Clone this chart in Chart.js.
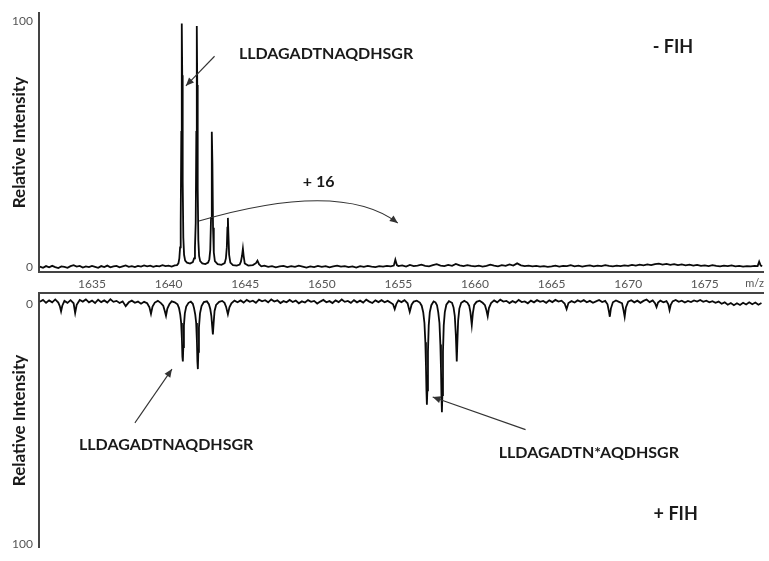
<!DOCTYPE html>
<html><head><meta charset="utf-8">
<script src="https://cdn.jsdelivr.net/npm/chart.js@4"></script>
<style>
html,body{margin:0;padding:0;background:#fff;}
#wrap{position:relative;width:769px;height:561px;overflow:hidden;background:#fff;}
canvas{position:absolute;left:0;}
</style></head><body>
<div id="wrap">
<canvas id="c1" width="769" height="300" style="top:0;width:769px;height:300px"></canvas>
<canvas id="c2" width="769" height="281" style="top:280px;width:769px;height:281px"></canvas>
</div>
<script>
// ---------- DATA ----------
const xTickLabels = [1635, 1640, 1645, 1650, 1655, 1660, 1665, 1670, 1675];
const yTickLabels = [0, 100];
const mzRange = [1631.54, 1678.8];

// -FIH spectrum: [m/z, relative intensity]
const topSpectrum = [
[1631.6,0.2],[1631.8,-0.3],[1632.0,0.4],[1632.2,-0.1],[1632.4,0.5],[1632.6,0.0],[1632.8,-0.4],[1633.0,0.3],
[1633.2,0.1],[1633.4,-0.3],[1633.6,0.4],[1633.8,0.8],[1634.0,0.2],[1634.2,0.5],[1634.4,-0.2],[1634.6,0.3],
[1634.8,0.0],[1635.0,0.5],[1635.2,0.1],[1635.4,-0.3],[1635.6,0.4],[1635.8,0.0],[1636.0,0.6],[1636.2,-0.1],
[1636.4,0.3],[1636.6,0.5],[1636.8,-0.1],[1637.0,0.3],[1637.2,0.7],[1637.4,0.1],[1637.6,0.4],[1637.8,0.0],
[1638.0,0.5],[1638.2,0.2],[1638.4,0.7],[1638.6,0.3],[1638.8,0.6],[1639.0,0.1],[1639.2,0.5],[1639.4,0.3],
[1639.6,0.8],[1639.8,0.4],[1640.0,0.6],[1640.2,0.2],[1640.4,0.7],[1640.55,0.8],
[1640.64,1.5],[1640.7,3.5],[1640.75,8],[1640.79,18],[1640.83,55],[1640.86,99],[1640.89,78],[1640.92,35],[1640.96,12],
[1641.01,5],[1641.08,2.6],[1641.2,1.8],[1641.4,1.4],[1641.58,2.0],
[1641.66,3.5],[1641.72,8],[1641.77,18],[1641.81,55],[1641.84,98],[1641.87,74],[1641.9,32],[1641.94,11],[1641.99,4.5],
[1642.06,2.4],[1642.2,1.5],[1642.4,1.2],[1642.58,1.8],
[1642.66,3.2],[1642.72,7],[1642.77,20],[1642.81,42],[1642.83,55],[1642.86,42],[1642.9,16],[1642.95,6],[1643.02,2.4],
[1643.2,1.2],[1643.45,0.9],[1643.66,1.6],
[1643.74,3.5],[1643.8,8],[1643.84,16],[1643.87,20],[1643.9,14],[1643.95,5],[1644.03,1.8],[1644.2,0.8],[1644.45,0.6],[1644.64,1.0],
[1644.72,2.2],[1644.79,4.5],[1644.85,7.5],[1644.9,4.5],[1644.97,1.5],[1645.2,0.6],[1645.5,0.8],
[1645.7,1.6],[1645.8,2.6],[1645.9,1.2],[1646.05,0.3],
[1646.25,0.6],[1646.5,0.1],[1646.75,0.4],[1647.0,-0.1],[1647.25,0.3],[1647.5,0.5],[1647.75,0.0],[1648.0,0.4],
[1648.25,0.1],[1648.5,0.6],[1648.75,0.2],[1649.0,-0.2],[1649.25,0.3],[1649.5,0.0],[1649.75,0.5],[1650.0,0.1],
[1650.25,0.4],[1650.5,-0.1],[1650.75,0.3],[1651.0,0.6],[1651.25,0.2],[1651.5,0.4],[1651.75,0.0],[1652.0,0.3],
[1652.25,-0.2],[1652.5,0.4],[1652.75,0.1],[1653.0,0.5],[1653.25,0.2],[1653.5,0.0],[1653.75,0.4],[1654.0,0.2],
[1654.25,0.5],[1654.5,0.3],[1654.7,0.6],[1654.8,3.0],[1654.9,0.8],[1655.0,0.4],[1655.25,0.7],[1655.5,0.2],
[1655.75,0.9],[1656.0,0.4],[1656.25,0.6],[1656.5,1.0],[1656.75,0.5],[1657.0,0.3],[1657.25,0.8],[1657.5,1.2],
[1657.75,0.6],[1658.0,0.4],[1658.25,0.9],[1658.5,0.5],[1658.75,1.3],[1659.0,0.7],[1659.25,0.4],[1659.5,0.8],
[1659.75,0.5],[1660.0,0.3],[1660.25,0.6],[1660.5,0.2],[1660.75,0.5],[1661.0,1.0],[1661.25,0.6],[1661.5,0.3],
[1661.75,0.8],[1662.0,0.5],[1662.25,1.1],[1662.5,0.6],[1662.75,1.5],[1663.0,0.7],[1663.25,0.4],[1663.5,0.6],
[1663.75,0.3],[1664.0,0.5],[1664.25,0.2],[1664.5,0.4],[1664.75,0.1],[1665.0,0.3],[1665.25,0.6],[1665.5,0.2],
[1665.75,0.5],[1666.0,0.4],[1666.25,0.8],[1666.5,0.3],[1666.75,0.6],[1667.0,0.2],[1667.25,0.5],[1667.5,0.7],
[1667.75,0.3],[1668.0,0.6],[1668.25,0.4],[1668.5,0.8],[1668.75,0.5],[1669.0,0.3],[1669.25,0.6],[1669.5,0.4],
[1669.75,0.7],[1670.0,0.5],[1670.25,0.9],[1670.5,0.6],[1670.75,1.0],[1671.0,0.7],[1671.25,1.1],[1671.5,0.8],
[1671.75,1.2],[1672.0,1.4],[1672.25,1.0],[1672.5,1.3],[1672.75,0.9],[1673.0,1.2],[1673.25,0.8],[1673.5,1.1],
[1673.75,0.7],[1674.0,1.0],[1674.25,0.6],[1674.5,0.9],[1674.75,0.5],[1675.0,0.7],[1675.25,0.4],[1675.5,0.8],
[1675.75,0.5],[1676.0,0.3],[1676.25,0.6],[1676.5,0.4],[1676.75,0.7],[1677.0,0.3],[1677.25,0.5],[1677.5,0.2],
[1677.75,0.4],[1678.0,0.3],[1678.25,0.5],[1678.45,0.4],[1678.55,2.2],[1678.65,0.6],[1678.75,0.4]
];

// +FIH spectrum (drawn downward): [m/z, relative intensity]
const bottomSpectrum = [
[1631.6,-0.8],[1631.8,-1.6],[1632.0,-0.4],[1632.2,-1.4],[1632.4,-0.6],[1632.6,-1.8],[1632.8,-0.5],[1632.9,1.0],
[1632.98,3.2],[1633.06,0.8],[1633.2,-1.2],[1633.4,-0.4],[1633.6,-1.5],[1633.8,-0.2],[1633.9,3.8],[1634.0,0.4],
[1634.2,-1.6],[1634.4,-0.9],[1634.6,-1.8],[1634.8,-0.6],[1635.0,-1.3],[1635.2,-0.3],[1635.4,-1.7],[1635.6,-0.7],
[1635.8,-1.4],[1636.0,-0.5],[1636.2,-1.9],[1636.4,-0.8],[1636.6,-1.2],[1636.8,-0.3],[1637.0,-1.0],[1637.2,1.0],
[1637.4,-0.6],[1637.6,-1.3],[1637.8,-0.4],[1638.0,-0.9],[1638.2,0.0],[1638.4,-0.8],[1638.6,-0.2],[1638.75,1.5],
[1638.85,4.2],[1638.95,1.2],[1639.1,-0.5],[1639.3,-1.2],[1639.5,-0.3],[1639.65,0.8],[1639.75,3.0],[1639.83,5.0],
[1639.92,2.0],[1640.05,0.2],[1640.2,-1.0],[1640.4,-0.6],[1640.58,0.2],
[1640.68,1.8],[1640.76,4.5],[1640.82,8],[1640.87,15],[1640.9,22],[1640.93,24],[1640.96,18],[1641.0,9],[1641.06,4],[1641.15,1.2],
[1641.3,-0.4],[1641.45,-0.9],[1641.58,0.0],
[1641.66,1.8],[1641.74,4.5],[1641.8,8],[1641.85,16],[1641.88,24],[1641.91,27.2],[1641.94,20],[1641.98,10],[1642.05,4],[1642.15,1.0],
[1642.3,-0.7],[1642.5,-1.0],[1642.63,0.2],
[1642.72,2.2],[1642.79,5],[1642.84,9],[1642.89,12.8],[1642.94,8],[1643.0,3],[1643.1,0.5],
[1643.3,-0.8],[1643.5,-1.2],[1643.65,-0.4],[1643.75,1.2],[1643.87,4.4],[1643.97,1.5],[1644.1,-0.2],
[1644.3,-1.3],[1644.5,-0.6],[1644.7,-1.4],[1644.9,-0.5],[1645.1,-1.6],[1645.3,-0.8],[1645.5,-1.3],[1645.7,-0.4],
[1645.9,-1.7],[1646.1,-1.0],[1646.3,-1.5],[1646.5,-0.6],[1646.7,-1.8],[1646.9,-0.9],[1647.1,-1.4],[1647.3,-0.3],
[1647.5,-1.1],[1647.7,-0.6],[1647.9,-1.6],[1648.1,-0.7],[1648.3,-1.3],[1648.5,-0.2],[1648.7,-1.0],[1648.9,-0.5],
[1649.1,-1.5],[1649.3,-0.8],[1649.5,-1.2],[1649.7,-0.1],[1649.9,-0.9],[1650.1,-1.6],[1650.3,-0.6],[1650.5,-1.1],
[1650.7,-0.3],[1650.9,-1.4],[1651.1,-0.7],[1651.3,-1.8],[1651.5,-0.8],[1651.7,-1.2],[1651.9,-0.4],[1652.1,-1.5],
[1652.3,-0.6],[1652.5,-1.3],[1652.7,-0.5],[1652.9,-1.7],[1653.1,-0.9],[1653.3,-0.3],[1653.5,-1.4],[1653.7,-0.7],
[1653.9,-1.5],[1654.1,-0.6],[1654.3,-1.2],[1654.5,-0.4],[1654.65,0.2],[1654.76,2.2],[1654.87,0.0],[1655.0,-1.4],
[1655.2,-0.7],[1655.4,-1.5],[1655.6,-0.2],[1655.74,3.4],[1655.86,0.4],[1656.0,-0.9],[1656.2,-1.3],[1656.4,-0.5],
[1656.52,0.8],[1656.62,3.5],[1656.7,8],[1656.76,16],[1656.8,26],[1656.83,36],[1656.86,42],[1656.89,36],[1656.93,20],[1656.98,9],
[1657.05,3.5],[1657.15,0.6],[1657.3,-1.0],[1657.42,-0.6],[1657.52,0.6],
[1657.6,3.5],[1657.68,8],[1657.74,17],[1657.78,27],[1657.81,38],[1657.84,45.2],[1657.87,38],[1657.91,20],[1657.96,9],[1658.03,3.5],
[1658.13,0.4],[1658.3,-1.1],[1658.5,-0.4],
[1658.6,1.5],[1658.68,5],[1658.75,13],[1658.81,24],[1658.85,16],[1658.9,7],[1658.98,2],[1659.1,-0.4],
[1659.3,-1.2],[1659.5,-0.5],[1659.62,0.8],[1659.7,3.5],[1659.79,8.8],[1659.86,4],[1659.95,0.5],[1660.1,-0.8],
[1660.3,-1.3],[1660.5,-0.4],[1660.65,0.6],[1660.75,2.8],[1660.83,5.2],[1660.91,1.8],[1661.05,-0.3],
[1661.25,-1.4],[1661.45,-0.6],[1661.65,-1.7],[1661.85,-0.9],[1662.05,-1.2],[1662.25,-0.3],[1662.45,-1.1],[1662.65,-0.5],
[1662.85,-1.6],[1663.05,-0.7],[1663.25,-1.0],[1663.45,-0.2],[1663.65,-1.3],[1663.85,-0.6],[1664.05,-1.5],[1664.25,-0.8],
[1664.45,-1.2],[1664.65,-0.4],[1664.85,-1.4],[1665.05,-0.7],[1665.25,-1.6],[1665.45,-0.9],[1665.65,-1.3],[1665.85,-0.1],
[1665.98,2.2],[1666.1,-0.3],[1666.3,-1.1],[1666.5,-0.5],[1666.7,-1.4],[1666.9,-0.8],[1667.1,-1.5],[1667.3,-0.6],
[1667.5,-1.2],[1667.7,-0.4],[1667.9,-1.0],[1668.1,-1.6],[1668.3,-0.7],[1668.5,-1.2],[1668.65,0.2],[1668.75,3.5],
[1668.8,5.4],[1668.87,2.0],[1669.0,-0.6],[1669.2,-1.4],[1669.4,-0.8],[1669.6,-0.2],[1669.7,2.8],[1669.77,5.4],
[1669.85,1.5],[1670.0,-0.9],[1670.2,-1.5],[1670.4,-0.6],[1670.6,-1.3],[1670.8,-0.4],[1671.0,-1.2],[1671.2,-1.8],
[1671.4,-0.7],[1671.6,-1.4],[1671.75,-0.2],[1671.85,1.4],[1671.95,-0.5],[1672.1,-1.3],[1672.3,-0.6],[1672.5,-1.1],
[1672.62,0.2],[1672.7,2.6],[1672.78,0.4],[1672.9,-1.0],[1673.1,-1.6],[1673.3,-0.8],[1673.5,-1.3],[1673.7,-0.5],
[1673.9,-1.2],[1674.1,-0.7],[1674.3,-1.4],[1674.5,-0.9],[1674.7,-1.6],[1674.9,-0.8],[1675.1,-1.3],[1675.3,-0.6],
[1675.5,-1.1],[1675.7,-0.4],[1675.9,-0.9],[1676.1,0.0],[1676.3,-0.6],[1676.5,0.4],[1676.7,-0.3],[1676.9,0.6],
[1677.1,-0.2],[1677.3,0.5],[1677.5,-0.4],[1677.7,0.3],[1677.9,-0.6],[1678.1,0.2],[1678.3,-0.5],[1678.5,0.4],[1678.7,-0.3]
];

// ---------- STYLE / LAYOUT ----------
const FONT = 'Lato, "Open Sans", "DejaVu Sans", sans-serif';
const TEXT = '#1a1a1a';
const AXIS = '#444';

// annotations in data coordinates (m/z, relative intensity)
const topNotes = [
  {text:'LLDAGADTNAQDHSGR', x:1644.59, y:86.5, size:16},
  {text:'+ 16', x:1648.76, y:34.7, size:16},
  {text:'- FIH', x:1671.6, y:89.2, size:18}
];
const topArrows = [{from:[1643.0,85.7], to:[1641.13,73.7]}];
const topCurves = [{from:[1641.98,18.7], ctrl:[1651.24,35.6], to:[1654.96,17.9]}];

const bottomNotes = [
  {text:'LLDAGADTNAQDHSGR', x:1634.15, y:58.8, size:16},
  {text:'LLDAGADTN*AQDHSGR', x:1661.55, y:62, size:16},
  {text:'+ FIH', x:1671.66, y:87.6, size:18}
];
const bottomArrows = [
  {from:[1637.8,49.6], to:[1640.22,27.2]},
  {from:[1663.3,52.4], to:[1657.24,38.8]}
];

function arrowHead(ctx, x, y, ang){
  const L = 8, W = 3.5;
  ctx.beginPath();
  ctx.moveTo(x, y);
  ctx.lineTo(x - L*Math.cos(ang) + W*Math.sin(ang), y - L*Math.sin(ang) - W*Math.cos(ang));
  ctx.lineTo(x - L*Math.cos(ang) - W*Math.sin(ang), y - L*Math.sin(ang) + W*Math.cos(ang));
  ctx.closePath();
  ctx.fill();
}

function annotator(notes, arrows, curves, showMz){
  return {
    id:'notes',
    afterDraw(chart){
      const {ctx, scales:{x, y}, chartArea} = chart;
      const px = v => x.getPixelForValue(v), py = v => y.getPixelForValue(v);
      ctx.save();
      ctx.fillStyle = TEXT;
      ctx.textBaseline = 'middle';
      ctx.textAlign = 'left';
      notes.forEach(n => {
        ctx.font = 'bold ' + n.size + 'px ' + FONT;
        ctx.fillText(n.text, px(n.x), py(n.y));
      });
      ctx.strokeStyle = '#333';
      ctx.fillStyle = '#333';
      ctx.lineWidth = 1.1;
      arrows.forEach(a => {
        const x1 = px(a.from[0]), y1 = py(a.from[1]), x2 = px(a.to[0]), y2 = py(a.to[1]);
        ctx.beginPath(); ctx.moveTo(x1, y1); ctx.lineTo(x2, y2); ctx.stroke();
        arrowHead(ctx, x2, y2, Math.atan2(y2 - y1, x2 - x1));
      });
      curves.forEach(c => {
        const x1 = px(c.from[0]), y1 = py(c.from[1]);
        const cx = px(c.ctrl[0]), cy = py(c.ctrl[1]);
        const x2 = px(c.to[0]), y2 = py(c.to[1]);
        ctx.beginPath(); ctx.moveTo(x1, y1); ctx.quadraticCurveTo(cx, cy, x2, y2); ctx.stroke();
        arrowHead(ctx, x2, y2, Math.atan2(y2 - cy, x2 - cx));
      });
      if (showMz){
        ctx.font = '11px ' + FONT;
        ctx.fillStyle = '#555';
        ctx.textAlign = 'center';
        ctx.fillText('m/z', px(1678.25), chartArea.bottom + 11);
      }
      ctx.restore();
    }
  };
}

const setTicks = arr => scale => { scale.ticks = arr.map(v => ({value: v})); };
const tickFont = {family: FONT, size: 12};

function dataset(arr){
  return {
    data: arr.map(p => ({x: p[0], y: p[1]})),
    borderColor: '#0a0a0a', borderWidth: 1.8, pointRadius: 0, tension: 0, fill: false
  };
}

// ---------- TOP: -FIH ----------
new Chart(document.getElementById('c1'), {
  type: 'line',
  data: {datasets: [dataset(topSpectrum)]},
  options: {
    responsive: false, animation: false, events: [],
    layout: {padding: {top: 8, right: 6, left: 0, bottom: 0}},
    plugins: {legend: {display: false}, tooltip: {enabled: false}},
    scales: {
      x: {
        type: 'linear', min: mzRange[0], max: mzRange[1], position: 'bottom',
        grid: {display: false, drawTicks: false},
        border: {display: true, color: AXIS, width: 2},
        ticks: {font: tickFont, color: '#555', padding: 5, maxRotation: 0, autoSkip: false, callback: v => String(v)},
        afterBuildTicks: setTicks(xTickLabels),
        afterFit: s => { s.height = 28; }
      },
      y: {
        type: 'linear', min: -2, max: 103.2,
        grid: {display: false, drawTicks: false},
        border: {display: true, color: AXIS, width: 2},
        ticks: {font: tickFont, color: '#555', padding: 6, callback: v => String(v)},
        afterBuildTicks: setTicks(yTickLabels),
        afterFit: s => { s.width = 39; },
        title: {display: true, text: 'Relative Intensity', color: TEXT,
                font: {family: FONT, size: 17, weight: 'bold'}, padding: {top: 9, bottom: 0}}
      }
    }
  },
  plugins: [annotator(topNotes, topArrows, topCurves, true)]
});

// ---------- BOTTOM: +FIH (mirrored) ----------
new Chart(document.getElementById('c2'), {
  type: 'line',
  data: {datasets: [dataset(bottomSpectrum)]},
  options: {
    responsive: false, animation: false, events: [],
    layout: {padding: {top: 12, right: 6, left: 0, bottom: 4}},
    plugins: {legend: {display: false}, tooltip: {enabled: false}},
    scales: {
      x: {
        type: 'linear', min: mzRange[0], max: mzRange[1], position: 'top',
        grid: {display: false, drawTicks: false},
        border: {display: true, color: AXIS, width: 2},
        ticks: {display: false},
        afterFit: s => { s.height = 0; }
      },
      y: {
        type: 'linear', min: -4.4, max: 101.6, reverse: true,
        grid: {display: false, drawTicks: false},
        border: {display: true, color: AXIS, width: 2},
        ticks: {font: tickFont, color: '#555', padding: 6, callback: v => String(v)},
        afterBuildTicks: setTicks(yTickLabels),
        afterFit: s => { s.width = 39; },
        title: {display: true, text: 'Relative Intensity', color: TEXT,
                font: {family: FONT, size: 17, weight: 'bold'}, padding: {top: 9, bottom: 0}}
      }
    }
  },
  plugins: [annotator(bottomNotes, bottomArrows, [], false)]
});
</script>
</body></html>
